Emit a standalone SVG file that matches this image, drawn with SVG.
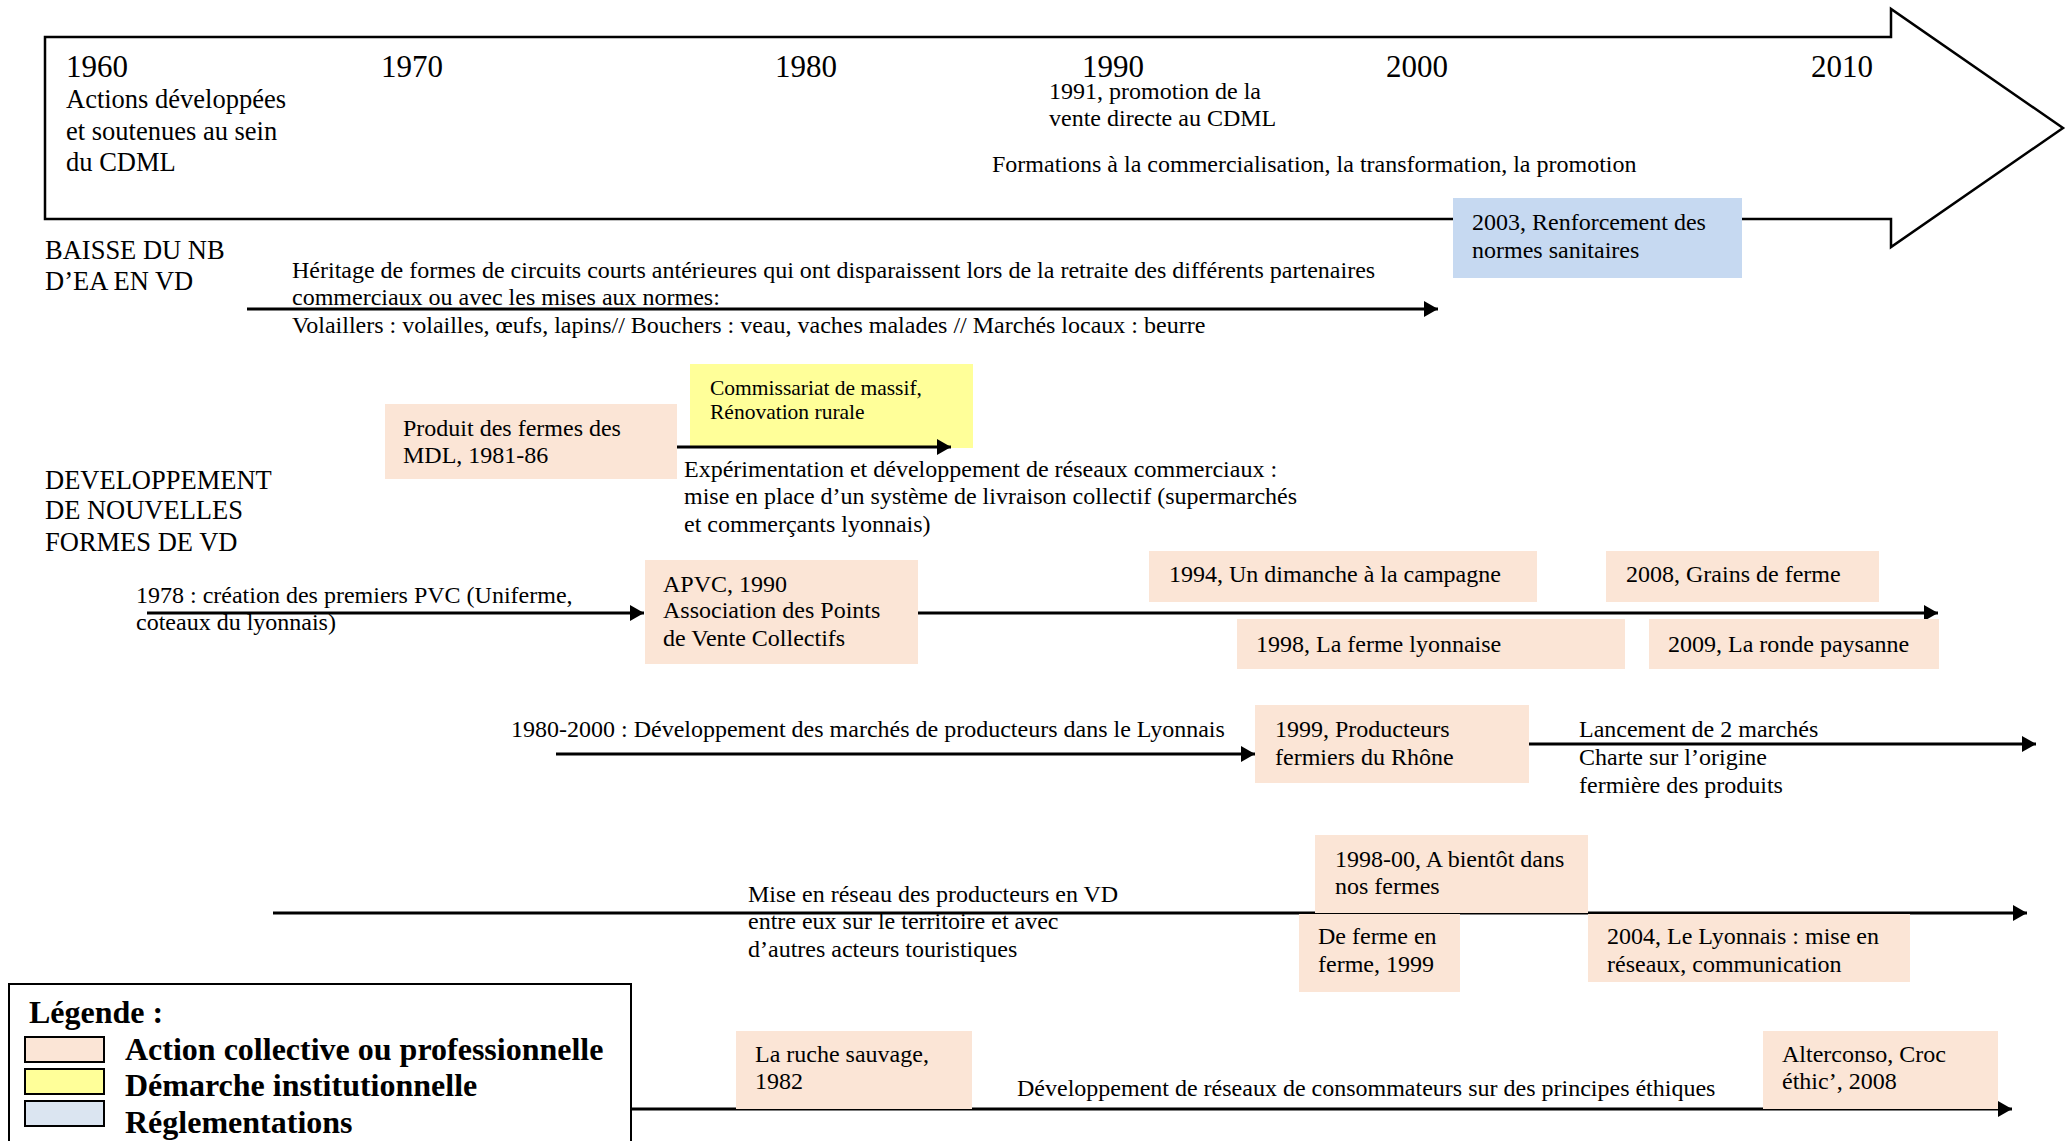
<svg xmlns="http://www.w3.org/2000/svg" width="2069" height="1141" viewBox="0 0 2069 1141">
<style>
text{font-family:"Liberation Serif","Times New Roman",serif;fill:#000}
.t{font-size:24px}
.y{font-size:31px}
.h{font-size:26.5px}
.s{font-size:21.5px}
.lg{font-size:32px;font-weight:bold}
.peach{fill:#fbe5d6}
.yel{fill:#ffff99}
.blue{fill:#c6d9f1}
.ln{stroke:#000;stroke-width:2.8;fill:none}
.arr{marker-end:url(#ah)}
</style>
<defs>
<marker id="ah" markerUnits="userSpaceOnUse" markerWidth="16" markerHeight="18" refX="14" refY="8" orient="auto">
<path d="M0,0 L14,8 L0,16 Z" fill="#000"/>
</marker>
</defs>
<rect width="2069" height="1141" fill="#fff"/>

<g id="timeline">
<polygon points="45,37 1891,37 1891,9 2063,128 1891,247 1891,219 45,219" fill="none" stroke="#000" stroke-width="2.5"/>
<text class="y" x="66" y="77">1960</text>
<text class="y" x="381" y="77">1970</text>
<text class="y" x="775" y="77">1980</text>
<text class="y" x="1082" y="77">1990</text>
<text class="y" x="1386" y="77">2000</text>
<text class="y" x="1811" y="77">2010</text>
<text class="h" x="66" y="108">Actions développées</text>
<text class="h" x="66" y="140">et soutenues au sein</text>
<text class="h" x="66" y="171">du CDML</text>
<text class="t" x="1049" y="99">1991, promotion de la</text>
<text class="t" x="1049" y="126">vente directe au CDML</text>
<text class="t" x="992" y="172">Formations à la commercialisation, la transformation, la promotion</text>
</g>

<g id="n-commissariat">
<rect class="yel" x="690" y="364" width="283" height="84"/>
<text class="s" x="710" y="395">Commissariat de massif,</text>
<text class="s" x="710" y="419">Rénovation rurale</text>
</g>

<g id="connectors">
<path class="ln arr" d="M247,309 H1438"/>
<path class="ln arr" d="M677,447 H951"/>
<path class="ln arr" d="M147,613 H644"/>
<path class="ln arr" d="M917,613 H1938"/>
<path class="ln arr" d="M556,754 H1255"/>
<path class="ln arr" d="M1529,744 H2036"/>
<path class="ln arr" d="M273,913 H2027"/>
<path class="ln arr" d="M631,1109 H2012"/>
</g>

<g id="n-2003">
<rect class="blue" x="1453" y="198" width="289" height="80"/>
<text class="t" x="1472" y="230">2003, Renforcement des</text>
<text class="t" x="1472" y="258">normes sanitaires</text>
</g>

<g id="lbl-baisse">
<text class="h" x="45" y="259">BAISSE DU NB</text>
<text class="h" x="45" y="290">D’EA EN VD</text>
</g>

<g id="lbl-heritage">
<text class="t" x="292" y="278">Héritage de formes de circuits courts antérieures qui ont disparaissent lors de la retraite des différents partenaires</text>
<text class="t" x="292" y="305">commerciaux ou avec les mises aux normes:</text>
<text class="t" x="292" y="333">Volaillers : volailles, œufs, lapins// Bouchers : veau, vaches malades // Marchés locaux : beurre</text>
</g>

<g id="n-produit">
<rect class="peach" x="385" y="404" width="292" height="75"/>
<text class="t" x="403" y="436">Produit des fermes des</text>
<text class="t" x="403" y="463">MDL, 1981-86</text>
</g>

<g id="lbl-experimentation">
<text class="t" x="684" y="477">Expérimentation et développement de réseaux commerciaux :</text>
<text class="t" x="684" y="504">mise en place d’un système de livraison collectif (supermarchés</text>
<text class="t" x="684" y="532">et commerçants lyonnais)</text>
</g>

<g id="lbl-developpement">
<text class="h" x="45" y="489">DEVELOPPEMENT</text>
<text class="h" x="45" y="519">DE NOUVELLES</text>
<text class="h" x="45" y="551">FORMES DE VD</text>
</g>

<g id="lbl-1978">
<text class="t" x="136" y="603">1978 : création des premiers PVC (Uniferme,</text>
<text class="t" x="136" y="630">coteaux du lyonnais)</text>
</g>

<g id="n-apvc">
<rect class="peach" x="645" y="560" width="273" height="104"/>
<text class="t" x="663" y="592">APVC, 1990</text>
<text class="t" x="663" y="618">Association des Points</text>
<text class="t" x="663" y="646">de Vente Collectifs</text>
</g>

<g id="n-1994">
<rect class="peach" x="1149" y="551" width="388" height="51"/>
<text class="t" x="1169" y="582">1994, Un dimanche à la campagne</text>
</g>

<g id="n-2008">
<rect class="peach" x="1606" y="551" width="273" height="51"/>
<text class="t" x="1626" y="582">2008, Grains de ferme</text>
</g>

<g id="n-1998">
<rect class="peach" x="1237" y="619" width="388" height="50"/>
<text class="t" x="1256" y="652">1998, La ferme lyonnaise</text>
</g>

<g id="n-2009">
<rect class="peach" x="1649" y="619" width="290" height="50"/>
<text class="t" x="1668" y="652">2009, La ronde paysanne</text>
</g>

<g id="lbl-1980-2000">
<text class="t" x="511" y="737">1980-2000 : Développement des marchés de producteurs dans le Lyonnais</text>
</g>

<g id="n-1999">
<rect class="peach" x="1255" y="705" width="274" height="78"/>
<text class="t" x="1275" y="737">1999, Producteurs</text>
<text class="t" x="1275" y="765">fermiers du Rhône</text>
</g>

<g id="lbl-lancement">
<text class="t" x="1579" y="737">Lancement de 2 marchés</text>
<text class="t" x="1579" y="765">Charte sur l’origine</text>
<text class="t" x="1579" y="793">fermière des produits</text>
</g>

<g id="lbl-mise">
<text class="t" x="748" y="902">Mise en réseau des producteurs en VD</text>
<text class="t" x="748" y="929">entre eux sur le territoire et avec</text>
<text class="t" x="748" y="957">d’autres acteurs touristiques</text>
</g>

<g id="n-bientot">
<rect class="peach" x="1315" y="835" width="273" height="78"/>
<text class="t" x="1335" y="867">1998-00, A bientôt dans</text>
<text class="t" x="1335" y="894">nos fermes</text>
</g>

<g id="n-deferme">
<rect class="peach" x="1299" y="914" width="161" height="78"/>
<text class="t" x="1318" y="944">De ferme en</text>
<text class="t" x="1318" y="972">ferme, 1999</text>
</g>

<g id="n-2004">
<rect class="peach" x="1588" y="914" width="322" height="68"/>
<text class="t" x="1607" y="944">2004, Le Lyonnais : mise en</text>
<text class="t" x="1607" y="972">réseaux, communication</text>
</g>

<g id="n-ruche">
<rect class="peach" x="736" y="1031" width="236" height="78"/>
<text class="t" x="755" y="1062">La ruche sauvage,</text>
<text class="t" x="755" y="1089">1982</text>
</g>

<g id="lbl-consommateurs">
<text class="t" x="1017" y="1096">Développement de réseaux de consommateurs sur des principes éthiques</text>
</g>

<g id="n-alterconso">
<rect class="peach" x="1763" y="1031" width="235" height="78"/>
<text class="t" x="1782" y="1062">Alterconso, Croc</text>
<text class="t" x="1782" y="1089">éthic’, 2008</text>
</g>

<g id="legend">
<rect x="9" y="984" width="622" height="180" fill="#fff" stroke="#000" stroke-width="2"/>
<text class="lg" x="29" y="1023">Légende :</text>
<rect x="25" y="1037" width="79" height="25" fill="#fbe5d6" stroke="#000" stroke-width="2"/>
<rect x="25" y="1069" width="79" height="25" fill="#ffff99" stroke="#000" stroke-width="2"/>
<rect x="25" y="1101" width="79" height="25" fill="#dbe5f1" stroke="#000" stroke-width="2"/>
<text class="lg" x="125" y="1060">Action collective ou professionnelle</text>
<text class="lg" x="125" y="1096">Démarche institutionnelle</text>
<text class="lg" x="125" y="1133">Réglementations</text>
</g>
</svg>
